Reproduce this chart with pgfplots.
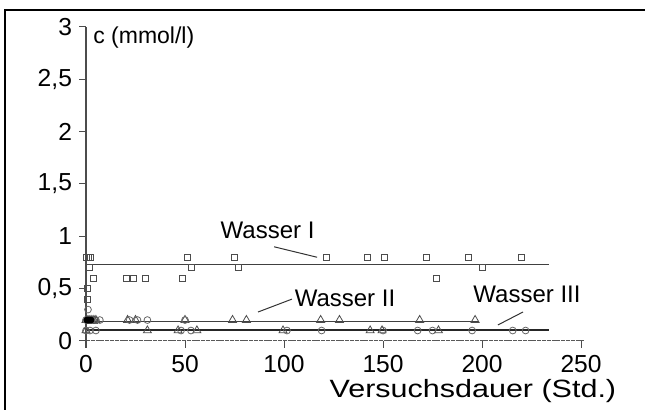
\documentclass[border=0pt]{standalone}
\usepackage{pgfplots}
\pgfplotsset{compat=1.18}
\usepackage{fontspec}
\setmainfont{Liberation Sans}
\begin{document}
\begin{tikzpicture}
\useasboundingbox (0,0) rectangle (322.5pt,205pt);
\draw[line width=1pt] (2.5pt,0) -- (2.5pt,200pt) -- (322.5pt,200pt);
\begin{axis}[
  at={(43pt,34.5pt)}, anchor=south west,
  scale only axis, width=249.5pt, height=157pt,
  xmin=0, xmax=252, ymin=0, ymax=3,
  axis x line*=bottom, axis y line*=left,
  x axis line style={-, black!65, line width=0.5pt, dash pattern=on 2pt off 0.4pt},
  y axis line style={-, black!70, line width=0.5pt},
  xtick={0,50,...,250}, ytick={0,0.5,...,3},
  tick align=outside, major tick length=3.5pt,
  tick style={black!70, line width=0.5pt},
  ticklabel style={font=\fontsize{12.3}{14}\selectfont},
  /pgf/number format/.cd, use comma, 1000 sep={}, assume math mode=true,
  /pgfplots/.cd,
  clip=false,
]
\addplot[black!75, line width=0.5pt] coordinates {(0,0.73) (234,0.73)};
\addplot[black!75, line width=0.5pt] coordinates {(0,0.19) (198,0.19)};
\addplot[black!85, line width=0.6pt] coordinates {(0,0.105) (234,0.105)};
% squares (Wasser I)
\addplot[only marks, mark=square, mark size=1.5pt, mark options={draw=black!70, line width=0.4pt}] coordinates {
(0,0.8) (1,0.8) (2,0.8) (51,0.8) (75,0.8) (121.5,0.8) (142,0.8) (150.5,0.8) (172,0.8) (193,0.8) (220,0.8)
(1.5,0.7) (53,0.7) (77,0.7) (200,0.7)
(3.5,0.6) (20.5,0.6) (24,0.6) (30,0.6) (48.5,0.6) (177,0.6)
(0.5,0.5) (0.5,0.4) (1,0.2) (4,0.2)
};
% triangles (Wasser II)
\addplot[only marks, mark=triangle, mark size=2.3pt, mark options={draw=black!70, line width=0.4pt}] coordinates {
(0,0.2) (1,0.2) (2,0.2) (3,0.2) (4,0.2) (5,0.2) (21,0.2) (25,0.2) (50,0.2) (74,0.2) (81,0.2) (118.5,0.2) (128,0.2) (168.5,0.2) (196.5,0.2)
(0,0.1) (31,0.1) (46.5,0.1) (56,0.1) (99.5,0.1) (143.5,0.1) (149.5,0.1) (178,0.1)
};
% circles (Wasser III)
\addplot[only marks, mark=o, mark size=1.7pt, mark options={draw=black!60, line width=0.4pt}] coordinates {
(0,0.1) (2,0.1) (5,0.1) (48,0.1) (53,0.1) (101.5,0.1) (119,0.1) (150,0.1) (167.5,0.1) (175,0.1) (195,0.1) (215.5,0.1) (222,0.1)
(0,0.2) (2,0.2) (3,0.2) (5,0.2) (7,0.2) (22,0.2) (26,0.2) (31,0.2) (50,0.2)
(1,0.3)
};
% dense cluster near the start
\addplot[only marks, mark=*, mark size=1.5pt, mark options={fill=black, draw=black}] coordinates {
(0.5,0.2) (1.5,0.2) (2.5,0.2)
};
% labels and leader lines
\node[font=\fontsize{12}{14}\selectfont] at (axis cs:91.7,1.06) {Wasser I};
\draw[black!80, line width=0.5pt] (axis cs:95,0.90) -- (axis cs:116.7,0.80);
\node[font=\fontsize{12}{14}\selectfont] at (axis cs:130.8,0.41) {Wasser II};
\draw[black!80, line width=0.5pt] (axis cs:104,0.40) -- (axis cs:86.9,0.277);
\node[font=\fontsize{12}{14}\selectfont] at (axis cs:222.7,0.45) {Wasser III};
\draw[black!80, line width=0.5pt] (axis cs:220.7,0.277) -- (axis cs:208,0.153);
\node[anchor=west, inner sep=0pt, font=\fontsize{11.5}{13}\selectfont] at (axis cs:3.5,2.9) {c (mmol/l)};
\node[anchor=east, inner sep=0pt, xscale=1.22, font=\fontsize{12.5}{14}\selectfont] at (axis cs:268,-0.48) {Versuchsdauer (Std.)};
\end{axis}
\end{tikzpicture}
\end{document}
